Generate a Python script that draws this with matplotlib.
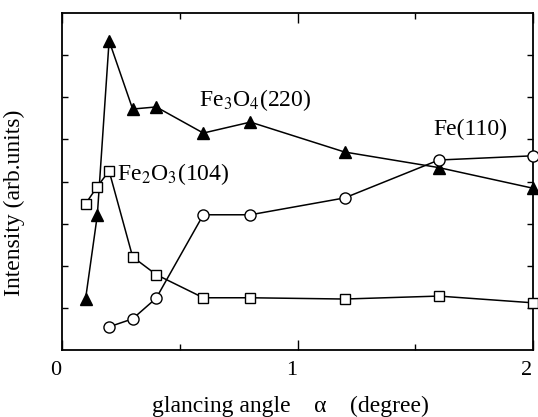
import matplotlib
matplotlib.use("Agg")
import matplotlib.pyplot as plt
import matplotlib.transforms as mtransforms
import numpy as np

# glancing angle (degree)
angle_fe3o4 = [0.10, 0.15, 0.20, 0.30, 0.40, 0.60, 0.80, 1.20, 1.60, 2.00]
fe3o4_220 = [1.21, 3.20, 7.34, 5.72, 5.77, 5.15, 5.41, 4.70, 4.33, 3.84]

angle_fe2o3 = [0.10, 0.15, 0.20, 0.30, 0.40, 0.60, 0.80, 1.20, 1.60, 2.00]
fe2o3_104 = [3.47, 3.88, 4.25, 2.21, 1.79, 1.24, 1.24, 1.21, 1.28, 1.12]

angle_fe = [0.20, 0.30, 0.40, 0.60, 0.80, 1.20, 1.60, 2.00]
fe_110 = [0.55, 0.74, 1.23, 3.21, 3.21, 3.61, 4.51, 4.61]

x_ticks = [0, 1, 2]
x_minor = [0.5, 1.5]
y_ticks = [1, 2, 3, 4, 5, 6, 7]

plt.rcParams["font.family"] = ["Liberation Serif", "DejaVu Serif"]
plt.rcParams["mathtext.fontset"] = "stix"

fig = plt.figure(figsize=(5.38, 4.17), dpi=100)
ax = fig.add_axes([62 / 538, 1 - 350 / 417, (533 - 62) / 538, (350 - 13) / 417])

lw = 1.1
ax.plot(angle_fe3o4, fe3o4_220, color="black", lw=lw, marker="^", ms=8,
        mfc="black", mec="black", clip_on=False, zorder=3)
ax.plot(angle_fe2o3, fe2o3_104, color="black", lw=lw, marker="s", ms=7.5,
        mfc="white", mec="black", mew=1.0, clip_on=False, zorder=4)
ax.plot(angle_fe, fe_110, color="black", lw=lw, marker="o", ms=8,
        mfc="white", mec="black", mew=1.0, clip_on=False, zorder=4)

ax.text(0.58, 5.78, r"Fe$_3$O$_4$(220)", fontsize=17)
ax.text(0.232, 4.04, r"Fe$_2$O$_3$(104)", fontsize=17)
ax.text(1.575, 5.1, "Fe(110)", fontsize=17)

ax.set_xlim(0, 2)
ax.set_ylim(0, 8)
ax.set_xticks(x_ticks)
ax.set_xticks(x_minor, minor=True)
ax.set_yticks(y_ticks)
ax.set_yticklabels([])
ax.tick_params(axis="both", which="both", direction="in", top=True, right=True,
               width=1.0, labelsize=16, pad=8)
ax.tick_params(axis="x", which="major", length=7)
ax.tick_params(axis="x", which="minor", length=4.5)
ax.tick_params(axis="y", which="major", length=4.5)

offset = mtransforms.ScaledTranslation(-6 / 100, 0, fig.dpi_scale_trans)
for lab in ax.get_xticklabels():
    lab.set_transform(lab.get_transform() + offset)

for sp in ax.spines.values():
    sp.set_linewidth(1.3)

ax.set_xlabel("glancing angle    α    (degree)", fontsize=17)
ax.set_ylabel("Intensity (arb.units)", fontsize=17)
ax.xaxis.set_label_coords(0.486, -0.135)
ax.yaxis.set_label_coords(-0.079, 0.436)

fig.savefig("out.png", dpi=100)
